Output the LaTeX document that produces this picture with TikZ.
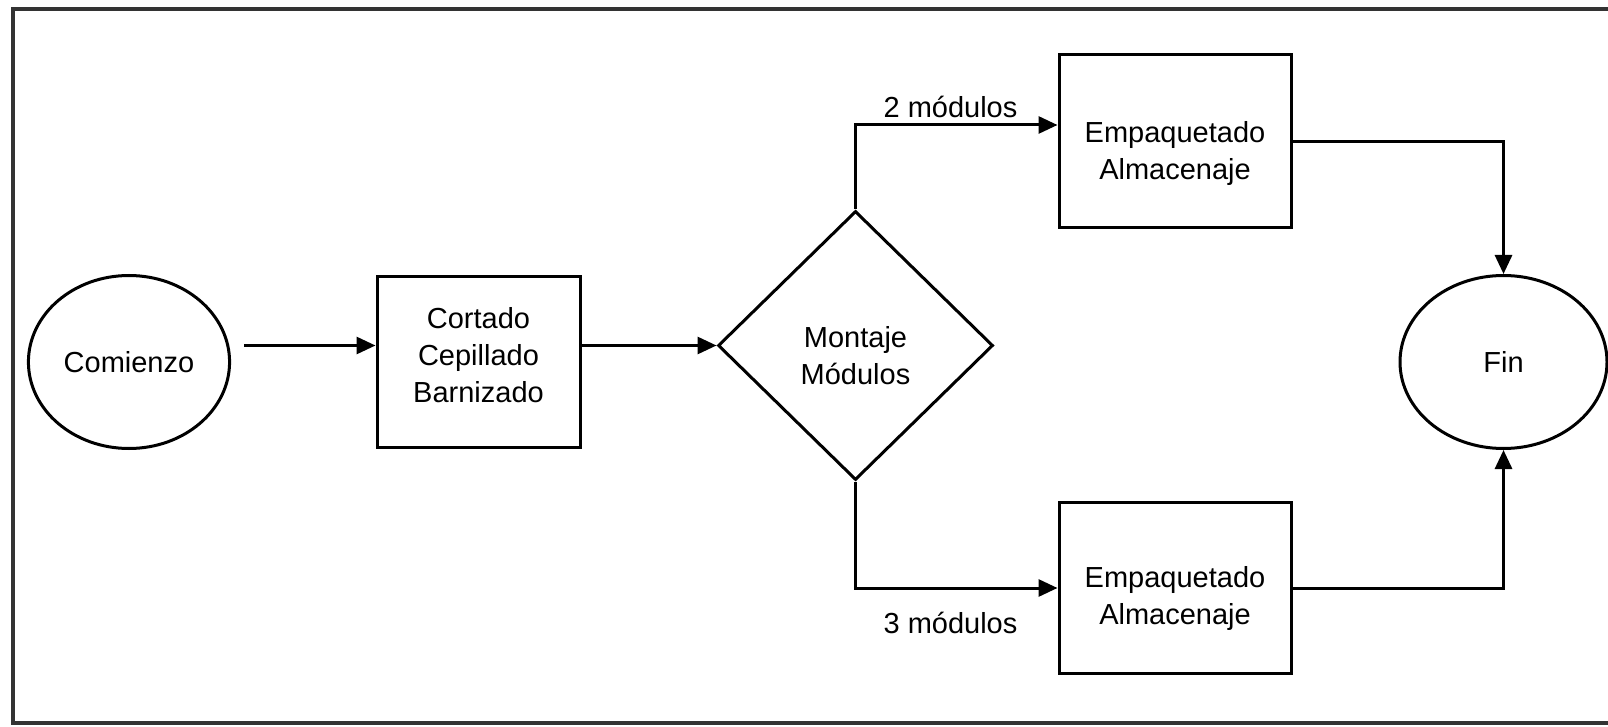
\documentclass[tikz,border=0pt]{standalone}
\usepackage{fontspec}
\setmainfont{Liberation Sans}
\usepackage{tikz}
\usetikzlibrary{shapes.geometric}
\usetikzlibrary{positioning}
\usetikzlibrary{arrows.meta}
\tikzstyle{terminal} = [ellipse, minimum width=3.84cm, minimum height=3.46cm, text centered, draw=black, line width=0.06cm]
\tikzstyle{process} = [rectangle, minimum width=4.06cm, minimum height=3.42cm, text centered, draw=black, line width=0.06cm]
\tikzstyle{decision} = [diamond, minimum width=5.5cm, minimum height=5.38cm, text centered, draw=black, line width=0.06cm]
\tikzstyle{arrow} = [line width=0.06cm, -{Triangle[length=0.38cm, width=0.34cm]}]
\tikzstyle{branch} = [font=\fontsize{16.5}{21}\selectfont]

\begin{document}
\begin{tikzpicture}[node distance=2cm, font=\fontsize{16.5}{21}\selectfont]
        \useasboundingbox (-2.58, 7.24) rectangle (29.58, -7.28);
        \draw [line width=0.07cm, black!80] (-2.32, 7.06) rectangle (29.9, -7.22);

        \node (comienzo) [terminal] at (0,0) {Comienzo};
        \node (cortado) [process, right of=comienzo, yshift=0cm, xshift=4.99cm, align=center] {Cortado\\Cepillado\\Barnizado\rule[-0.28cm]{0pt}{0pt}};
        \node (montaje) [decision, right of=cortado, yshift=0.33cm, xshift=5.54cm, align=center] {\rule{0pt}{0.82cm}Montaje\\Módulos};
        \node (empaqA) [process, minimum width=4.64cm, minimum height=3.46cm, right of=montaje, yshift=4.08cm, xshift=4.39cm, align=center] {\rule{0pt}{0.9cm}Empaquetado\\Almacenaje};
        \node (empaqB) [process, minimum width=4.64cm, minimum height=3.42cm, below of=empaqA, yshift=-6.93cm, xshift=0cm, align=center] {\rule{0pt}{0.84cm}Empaquetado\\Almacenaje};
        \node (fin) [terminal, minimum width=4.14cm, right of=montaje, yshift=-0.33cm, xshift=10.96cm] {Fin};

        \draw [arrow] ([xshift=0.26cm]comienzo.east |- montaje.west) -- (cortado.west |- montaje.west);
        \draw [arrow] (cortado.east |- montaje.west) -- (montaje.west);
        \draw [arrow] (montaje.north) |- ([yshift=0.33cm]empaqA.west) node [branch, pos=0.75, above, xshift=-0.12cm] {2 módulos};
        \draw [arrow] (montaje.south) |- (empaqB.west) node [branch, pos=0.75, below, yshift=-0.34cm, xshift=-0.12cm] {3 módulos};
        \draw [arrow] (empaqA) -| (fin.north);
        \draw [arrow] (empaqB) -| (fin.south);
    \end{tikzpicture}
\end{document}
